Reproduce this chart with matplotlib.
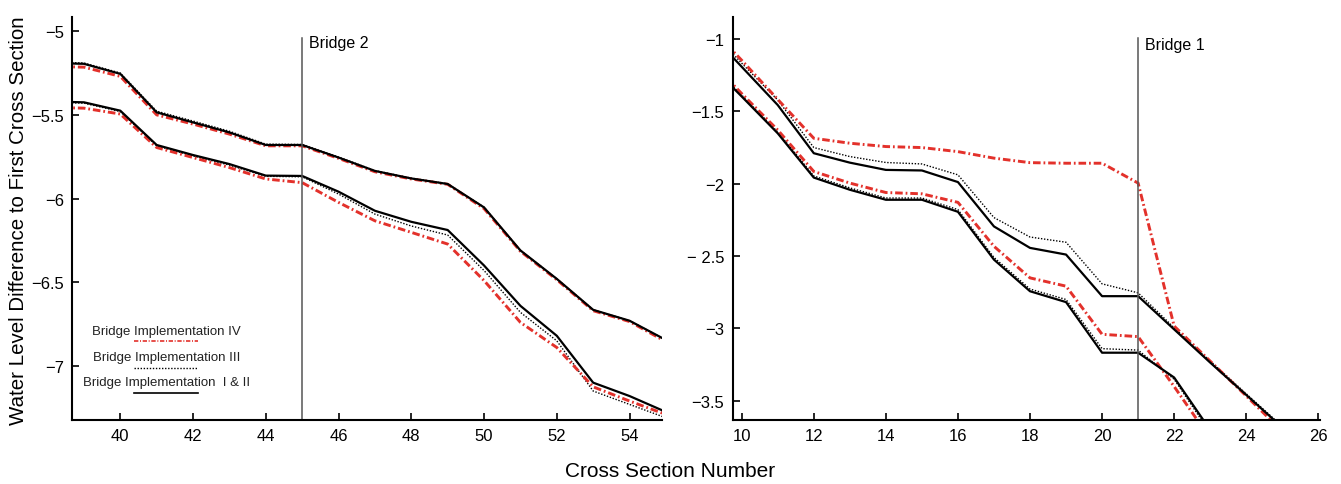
import matplotlib.pyplot as plt
from matplotlib.lines import Line2D

plt.rcParams['font.family'] = ['Liberation Sans', 'DejaVu Sans']

# Downstream reach (Bridge 2), cross sections 38..55
xs_a = list(range(38, 56))
a_up_12 = [-5.19, -5.195, -5.255, -5.485, -5.545, -5.605, -5.68, -5.68, -5.755,
           -5.835, -5.88, -5.913, -6.053, -6.31, -6.48, -6.665, -6.73, -6.845]
a_up_3 = [-5.185, -5.19, -5.25, -5.478, -5.537, -5.598, -5.675, -5.677, -5.752,
          -5.833, -5.878, -5.912, -6.052, -6.31, -6.48, -6.665, -6.73, -6.845]
a_up_4 = [-5.21, -5.215, -5.27, -5.50, -5.555, -5.615, -5.685, -5.685, -5.76,
          -5.84, -5.883, -5.915, -6.06, -6.315, -6.485, -6.67, -6.735, -6.855]
a_lo_12 = [-5.42, -5.425, -5.475, -5.68, -5.74, -5.794, -5.863, -5.865, -5.959,
           -6.073, -6.139, -6.188, -6.40, -6.641, -6.82, -7.10, -7.18, -7.275]
a_lo_3 = [-5.425, -5.43, -5.48, -5.685, -5.745, -5.80, -5.867, -5.87, -5.973,
          -6.093, -6.164, -6.218, -6.43, -6.68, -6.85, -7.15, -7.23, -7.31]
a_lo_4 = [-5.455, -5.46, -5.495, -5.695, -5.755, -5.815, -5.883, -5.905, -6.023,
          -6.133, -6.202, -6.272, -6.49, -6.74, -6.89, -7.125, -7.21, -7.29]

# Upstream reach (Bridge 1)
xs_b_up = list(range(9, 26))
b_up_12 = [-0.93, -1.195, -1.459, -1.791, -1.856, -1.906, -1.91, -1.99, -2.296,
           -2.444, -2.49, -2.777, -2.777, -3.006, -3.235, -3.458, -3.682]
b_up_3 = [-0.91, -1.17, -1.424, -1.752, -1.814, -1.855, -1.865, -1.94, -2.235,
          -2.369, -2.405, -2.692, -2.754, -2.995, -3.225, -3.45, -3.675]
b_up_4 = [-0.89, -1.15, -1.42, -1.688, -1.722, -1.745, -1.752, -1.78, -1.825,
          -1.856, -1.86, -1.86, -1.997, -2.983, -3.225, -3.465, -3.71]
xs_b_lo = list(range(9, 24))
b_lo_12 = [-1.15, -1.40, -1.654, -1.959, -2.043, -2.112, -2.112, -2.195, -2.525,
           -2.743, -2.818, -3.167, -3.167, -3.338, -3.70]
b_lo_3 = [-1.14, -1.39, -1.645, -1.948, -2.03, -2.10, -2.10, -2.18, -2.51,
          -2.728, -2.80, -3.139, -3.149, -3.35, -3.72]
b_lo_4 = [-1.12, -1.38, -1.631, -1.917, -1.997, -2.062, -2.071, -2.13, -2.433,
          -2.651, -2.708, -3.04, -3.056, -3.40, -3.76]

RED = '#e3312b'
sty_4 = dict(color=RED, lw=2.1, dashes=(2.6, 1.0, 0.6, 1.0))
sty_3 = dict(color='black', lw=1.0, dashes=(1.0, 1.2))
sty_12 = dict(color='black', lw=1.6, linestyle='-')

fig = plt.figure(figsize=(13.41, 4.85), dpi=100)
ax1 = fig.add_axes([0.0539, 0.132, 0.4397, 0.831])
ax2 = fig.add_axes([0.5464, 0.132, 0.438, 0.831])


def style(ax):
    for s in ['top', 'right']:
        ax.spines[s].set_visible(False)
    for s in ['left', 'bottom']:
        ax.spines[s].set_linewidth(1.5)
    ax.tick_params(direction='in', length=5, width=1.2, labelsize=12, pad=6)


for ys in (a_up_3, a_lo_3):
    ax1.plot(xs_a, ys, **sty_3)
for ys in (a_up_4, a_lo_4):
    ax1.plot(xs_a, ys, **sty_4)
for ys in (a_up_12, a_lo_12):
    ax1.plot(xs_a, ys, **sty_12)

ax1.axvline(45, ymax=0.948, color='#555555', lw=1.1)
ax1.text(45.18, -5.065, 'Bridge 2', fontsize=11.5, va='center', ha='left')
ax1.set_xlim(38.68, 54.89)
ax1.set_ylim(-7.323, -4.915)
ax1.set_xticks(range(40, 55, 2))
ax1.set_yticks([-7, -6.5, -6, -5.5, -5])
ax1.set_yticklabels(['\u22127', '\u22126.5', '\u22126', '\u22125.5', '\u22125'])
style(ax1)

ax2.plot(xs_b_up, b_up_3, **sty_3)
ax2.plot(xs_b_lo, b_lo_3, **sty_3)
ax2.plot(xs_b_up, b_up_4, **sty_4)
ax2.plot(xs_b_lo, b_lo_4, **sty_4)
ax2.plot(xs_b_up, b_up_12, **sty_12)
ax2.plot(xs_b_lo, b_lo_12, **sty_12)

ax2.axvline(21, ymax=0.948, color='#555555', lw=1.1)
ax2.text(21.18, -1.04, 'Bridge 1', fontsize=11.5, va='center', ha='left')
ax2.set_xlim(9.75, 26.05)
ax2.set_ylim(-3.631, -0.851)
ax2.set_xticks(range(10, 27, 2))
ax2.set_yticks([-3.5, -3, -2.5, -2, -1.5, -1])
ax2.set_yticklabels(['\u22123.5', '\u22123', '\u2212 2.5', '\u22122', '\u22121.5', '\u22121'])
style(ax2)

# hand-placed legend in the lower left of the first panel
legend_rows = [
    ('Bridge Implementation IV', 0.221, 0.196, sty_4),
    ('Bridge Implementation III', 0.156, 0.129, sty_3),
    ('Bridge Implementation  I & II', 0.094, 0.067, dict(color='black', lw=1.2)),
]
for label, ty, ly, sty in legend_rows:
    ax1.text(0.16, ty, label, transform=ax1.transAxes, fontsize=9.5,
             ha='center', va='center', color='#222222')
    ax1.add_line(Line2D([0.105, 0.214], [ly, ly], transform=ax1.transAxes,
                        **{**sty, 'lw': min(sty['lw'], 1.2)}))

fig.text(0.0135, 0.545, 'Water Level Difference to First Cross Section',
         rotation=90, ha='center', va='center', fontsize=14.8)
fig.text(0.4996, 0.027, 'Cross Section Number', ha='center', va='center', fontsize=15)

fig.savefig('out.png', dpi=100)
